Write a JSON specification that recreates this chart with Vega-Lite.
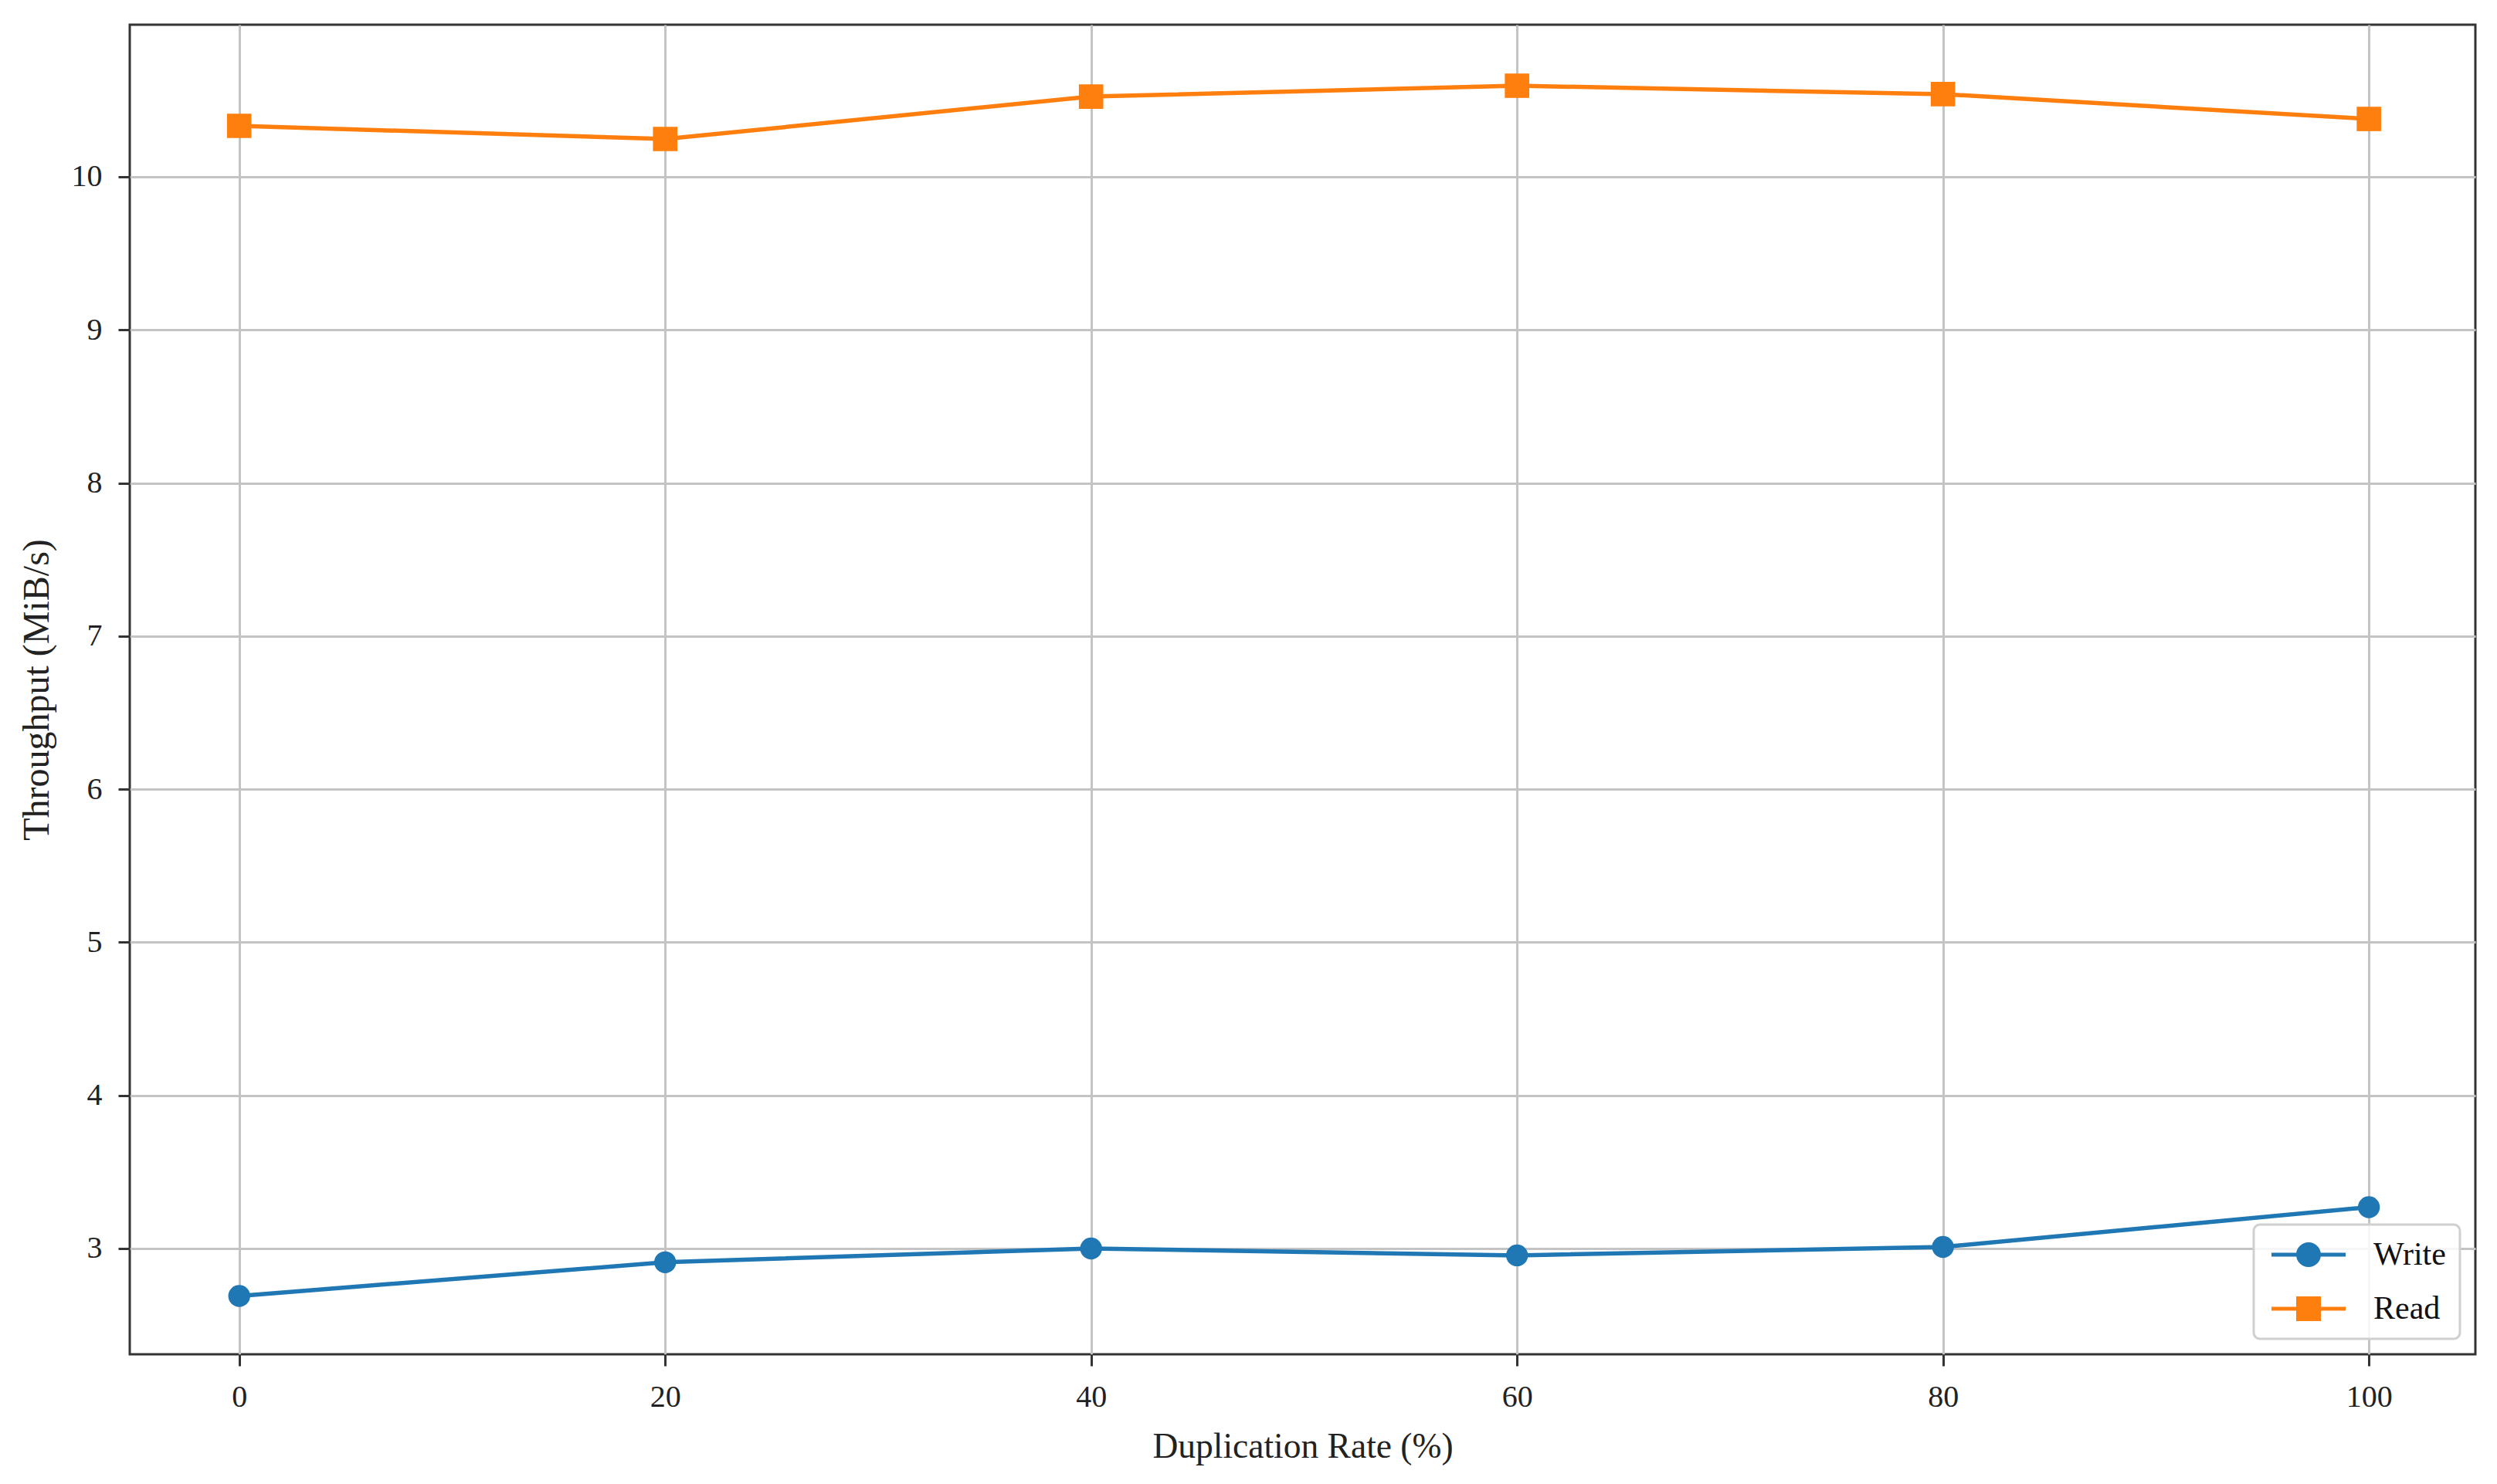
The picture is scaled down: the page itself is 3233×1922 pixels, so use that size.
{
  "$schema": "https://vega.github.io/schema/vega-lite/v6.json",
  "autosize": {"type": "none"},
  "width": 3037,
  "height": 1722,
  "padding": {"left": 168, "top": 32, "right": 28, "bottom": 168},
  "background": "white",
  "config": {
    "font": "Liberation Serif",
    "view": {"stroke": "#333333", "strokeWidth": 3},
    "axis": {
      "domain": false,
      "grid": true,
      "gridColor": "#c4c4c4",
      "gridWidth": 3,
      "tickColor": "#333333",
      "tickWidth": 3,
      "tickSize": 15,
      "labelFont": "Liberation Serif",
      "labelFontSize": 40,
      "labelColor": "#222222",
      "titleFont": "Liberation Serif",
      "titleFontWeight": "normal",
      "titleColor": "#222222"
    },
    "legend": {
      "orient": "bottom-right",
      "offset": 20,
      "fillColor": "rgba(255,255,255,0.85)",
      "strokeColor": "#d0d0d0",
      "strokeWidth": 3,
      "cornerRadius": 8,
      "padding": 18,
      "labelFont": "Liberation Serif",
      "labelFontSize": 42,
      "labelColor": "#111111",
      "symbolSize": 1024,
      "symbolStrokeWidth": 0,
      "symbolOpacity": 1,
      "rowPadding": 28,
      "labelOffset": 95
    }
  },
  "resolve": {"legend": {"color": "independent", "shape": "independent"}},
  "data": {
    "values": [
      {"rate": 0, "series": "Write", "throughput": 2.69},
      {"rate": 20, "series": "Write", "throughput": 2.91},
      {"rate": 40, "series": "Write", "throughput": 3.0},
      {"rate": 60, "series": "Write", "throughput": 2.955},
      {"rate": 80, "series": "Write", "throughput": 3.01},
      {"rate": 100, "series": "Write", "throughput": 3.27},
      {"rate": 0, "series": "Read", "throughput": 10.333},
      {"rate": 20, "series": "Read", "throughput": 10.247},
      {"rate": 40, "series": "Read", "throughput": 10.524},
      {"rate": 60, "series": "Read", "throughput": 10.595},
      {"rate": 80, "series": "Read", "throughput": 10.54},
      {"rate": 100, "series": "Read", "throughput": 10.378}
    ]
  },
  "encoding": {
    "x": {
      "field": "rate",
      "type": "quantitative",
      "scale": {"domain": [-5.14, 105.0], "nice": false, "zero": false},
      "axis": {"values": [0, 20, 40, 60, 80, 100], "title": "Duplication Rate (%)", "titleFontSize": 45.5, "labelPadding": 20, "titlePadding": 22}
    },
    "y": {
      "field": "throughput",
      "type": "quantitative",
      "scale": {"domain": [2.309, 10.9935], "nice": false, "zero": false},
      "axis": {"values": [3, 4, 5, 6, 7, 8, 9, 10], "title": "Throughput (MiB/s)", "titleFontSize": 48, "labelPadding": 21, "titlePadding": 20}
    }
  },
  "layer": [
    {
      "mark": {"type": "line", "strokeWidth": 5.5},
      "encoding": {
        "color": {
          "field": "series",
          "type": "nominal",
          "scale": {"domain": ["Write", "Read"], "range": ["#1f77b4", "#ff7f0e"]},
          "legend": null
        }
      }
    },
    {
      "transform": [{"filter": "datum.series === 'Write'"}],
      "mark": {"type": "point", "shape": "circle", "filled": true, "size": 804, "opacity": 1},
      "encoding": {
        "color": {"field": "series", "type": "nominal", "legend": null}
      }
    },
    {
      "transform": [{"filter": "datum.series === 'Read'"}],
      "mark": {"type": "point", "shape": "square", "filled": true, "size": 1000, "opacity": 1},
      "encoding": {
        "color": {"field": "series", "type": "nominal", "legend": null}
      }
    },
    {
      "transform": [{"filter": "datum.rate < -1000"}],
      "mark": {"type": "point", "filled": true, "opacity": 1},
      "encoding": {
        "color": {
          "field": "series",
          "type": "nominal",
          "legend": {"title": null}
        },
        "shape": {
          "field": "series",
          "type": "nominal",
          "scale": {
            "domain": ["Write", "Read"],
            "range": [
              "M-1,-0.16H5V0.16H-1Z M3,0A1,1 0 1,1 1,0A1,1 0 1,1 3,0Z",
              "M-1,-0.16H5V0.16H-1Z M1,-1H3V1H1Z"
            ]
          },
          "legend": {"title": null}
        }
      }
    }
  ]
}
